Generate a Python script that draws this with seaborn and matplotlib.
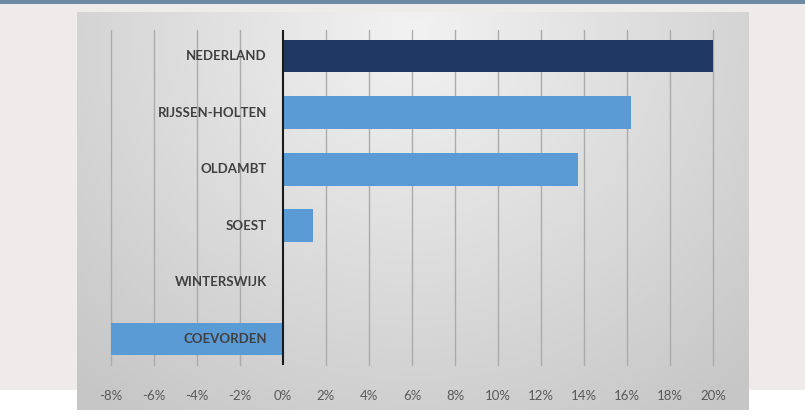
import numpy as np
import pandas as pd
import matplotlib
matplotlib.use('Agg')
import matplotlib.pyplot as plt
import matplotlib.patches as mpatches
import seaborn as sns

# data
gemeenten = ['NEDERLAND', 'RIJSSEN-HOLTEN', 'OLDAMBT', 'SOEST', 'WINTERSWIJK', 'COEVORDEN']
groei = [20.0, 16.2, 13.7, 1.4, 0.0, -8.0]
kleuren = ['#1f3864', '#5b9bd5', '#5b9bd5', '#5b9bd5', '#5b9bd5', '#5b9bd5']
x_ticks = list(range(-8, 21, 2))

df = pd.DataFrame({'gemeente': gemeenten, 'groei': groei})

sns.set_style('white')
plt.rcParams['font.family'] = ['Lato', 'DejaVu Sans']

W, H = 805, 419
fig = plt.figure(figsize=(W / 100, H / 100), dpi=100)
fig.patch.set_facecolor('white')

# outer light background + top strip
bg = fig.add_axes([0, 0, 1, 1], zorder=-3)
bg.set_xlim(0, W)
bg.set_ylim(H, 0)
bg.axis('off')
bg.add_patch(mpatches.Rectangle((0, 4), W, 386, color='#efebeb', lw=0))
bg.add_patch(mpatches.Rectangle((0, 0), W, 4, color='#6d8aa3', lw=0))

# gradient panel
px0, px1, py0, py1 = 77, 748, 12, 410
pan = fig.add_axes([px0 / W, 1 - py1 / H, (px1 - px0) / W, (py1 - py0) / H], zorder=-2)
gx = np.linspace(-1, 1, 300)
gy = np.linspace(-1, 1, 150)
XX, YY = np.meshgrid(gx, gy)
r = np.sqrt((XX * 0.9) ** 2 + ((YY + 0.9) * 0.55) ** 2)
shade = 0.95 - 0.17 * np.clip(r, 0, 1.3) / 1.3
pan.imshow(np.dstack([shade] * 3), aspect='auto', extent=[0, 1, 0, 1])
pan.axis('off')

# main axes: -8% at px 111, 20% at px 713; rows from y 30 to 365
ax0, ax1, ay0, ay1 = 111, 713, 30, 365
ax = fig.add_axes([ax0 / W, 1 - ay1 / H, (ax1 - ax0) / W, (ay1 - ay0) / H])
ax.patch.set_alpha(0)

sns.barplot(data=df, x='groei', y='gemeente', hue='gemeente', palette=kleuren,
            saturation=1, linewidth=0, legend=False, orient='h', width=0.58,
            ax=ax, zorder=3)

ax.set_xlim(-8, 20)
ax.set_ylim(5.46, -0.46)
ax.set_xticks(x_ticks)
ax.set_xticklabels([f'{t}%' for t in x_ticks], color='#595959', fontsize=9.5)
ax.tick_params(axis='x', length=0, pad=18)
ax.set_yticks([])
ax.set_xlabel('')
ax.set_ylabel('')
for s in ax.spines.values():
    s.set_visible(False)
for t in x_ticks:
    if t != 0:
        ax.axvline(t, color='#ababab', lw=1.0, zorder=1, clip_on=False)
ax.axvline(0, color='#1a1a1a', lw=1.5, zorder=4)

for i, g in enumerate(gemeenten):
    ax.text(-0.75, i, g, ha='right', va='center', fontsize=9.5, fontweight='bold',
            color='#404040', zorder=5)

fig.savefig('out.png', dpi=100)
